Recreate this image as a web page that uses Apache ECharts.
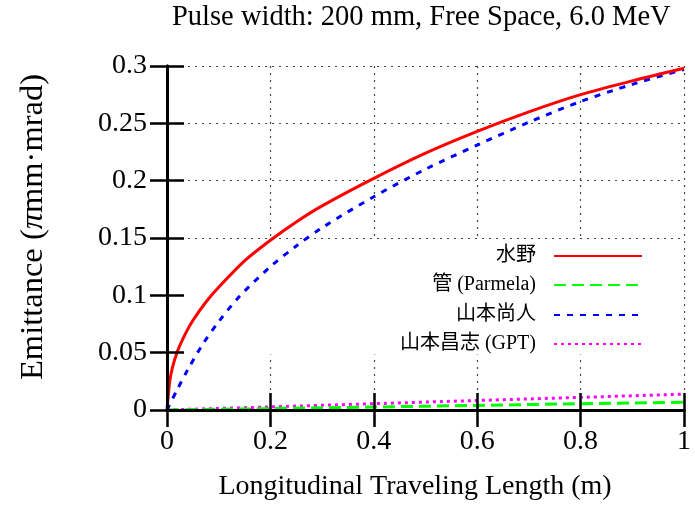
<!DOCTYPE html>
<html>
<head>
<meta charset="utf-8">
<script src="https://cdn.jsdelivr.net/npm/echarts@6/dist/echarts.min.js"></script>
<style>html,body{margin:0;padding:0;background:#fff}#c{width:695px;height:506px}</style>
</head>
<body>
<div id="c"></div>
<script>
// ---- data ----
var titleText = 'Pulse width: 200 mm, Free Space, 6.0 MeV';
var xName = 'Longitudinal Traveling Length (m)';
var yName = 'Emittance ({pi|π}mm·mrad)';
var seriesNames = ['水野', '管 (Parmela)', '山本尚人', '山本昌志 (GPT)'];

var xMizuno = [0, 0.005, 0.01, 0.02, 0.035, 0.05, 0.075, 0.1, 0.15, 0.2, 0.25, 0.3, 0.4, 0.5, 0.6, 0.7, 0.8, 0.9, 1.0];
var yMizuno = [0, 0.024, 0.036, 0.051, 0.066, 0.078, 0.094, 0.107, 0.13, 0.148, 0.164, 0.178, 0.202, 0.224, 0.243, 0.26, 0.275, 0.287, 0.298];

var xKan = [0, 0.2, 0.4, 0.6, 0.8, 1.0];
var yKan = [0, 0.0012, 0.0026, 0.004, 0.0055, 0.0068];

var xYamamotoN = [0, 0.02, 0.04, 0.07, 0.1, 0.14, 0.2, 0.25, 0.3, 0.4, 0.5, 0.6, 0.7, 0.8, 0.9, 1.0];
var yYamamotoN = [0, 0.018, 0.035, 0.058, 0.077, 0.099, 0.125, 0.143, 0.159, 0.186, 0.21, 0.231, 0.251, 0.269, 0.284, 0.297];

var xYamamotoM = [0, 0.2, 0.4, 0.6, 0.8, 1.0];
var yYamamotoM = [0, 0.0027, 0.0055, 0.0083, 0.011, 0.0138];

// legend (key) background region in data units
var keyYRange = [0.0484, 0.1478];

function pairs(xs, ys) { return xs.map(function (x, i) { return [x, ys[i]]; }); }

var SERIF = "'Liberation Serif', 'Noto Sans CJK JP', serif";
var chart = echarts.init(document.getElementById('c'), null, {renderer: 'canvas'});

var tickStyle = {show: true, inside: true, length: 17, lineStyle: {color: '#000', width: 2.5}};
var lineStyleAxis = {show: true, lineStyle: {color: '#000', width: 3}};
var gridLineStyle = {color: '#444', width: 1.2, type: [2, 5]};

var legendCenters = [256, 285, 315, 344];
var legends = seriesNames.map(function (n, i) {
  return {
    data: [n], right: 52, top: legendCenters[i] - 10, orient: 'vertical', align: 'right',
    itemWidth: 88, itemHeight: 20, selectedMode: false, padding: 0,
    itemStyle: {opacity: 0},
    textStyle: {fontSize: 20, fontFamily: SERIF, color: '#000', padding: [0, 13, 0, 0], lineHeight: 20}
  };
});

var option = {
  backgroundColor: '#fff',
  animation: false,
  title: {
    text: titleText, left: 172, top: 3, padding: 0,
    textStyle: {fontSize: 28.5, fontWeight: 'normal', fontFamily: SERIF, color: '#000'}
  },
  legend: legends,
  grid: {left: 167, right: 11, top: 66, bottom: 93},
  xAxis: [
    {
      type: 'value', min: 0, max: 1, interval: 0.2, position: 'bottom', z: 10,
      axisLine: lineStyleAxis, axisTick: tickStyle, splitLine: {show: false},
      axisLabel: {show: true, fontSize: 28, fontFamily: SERIF, color: '#000', margin: 18},
      name: xName, nameLocation: 'middle', nameGap: 63,
      nameTextStyle: {fontSize: 28, fontFamily: SERIF, color: '#000', padding: [0, 21, 0, 0]}
    },
    {
      type: 'value', min: 0, max: 1, interval: 0.2, position: 'top', z: 10,
      axisLine: lineStyleAxis, axisTick: tickStyle, splitLine: {show: false}, axisLabel: {show: false}
    },
    {type: 'value', min: 0, max: 0.3 * 0 + 1, interval: 0.2, position: 'bottom', z: 0,
     axisLine: {show: false}, axisTick: {show: false}, axisLabel: {show: false},
     splitLine: {show: true, lineStyle: gridLineStyle}}
  ],
  yAxis: [
    {
      type: 'value', min: 0, max: 0.3, interval: 0.05, position: 'left', z: 10,
      axisLine: lineStyleAxis, axisTick: tickStyle, splitLine: {show: false},
      axisLabel: {show: true, fontSize: 28, fontFamily: SERIF, color: '#000', margin: 20},
      name: yName, nameLocation: 'middle', nameGap: 117, nameRotate: 90,
      nameTextStyle: {fontSize: 32.5, fontFamily: SERIF, color: '#000', padding: [0, 0, 0, 22],
        rich: {pi: {fontSize: 32.5, fontFamily: SERIF, fontStyle: 'italic', color: '#000'}}}
    },
    {
      type: 'value', min: 0, max: 0.3, interval: 0.05, position: 'right', z: 10,
      axisLine: lineStyleAxis, axisTick: tickStyle, splitLine: {show: false}, axisLabel: {show: false}
    },
    {type: 'value', min: 0, max: 0.3, interval: 0.05, position: 'left', z: 0,
     axisLine: {show: false}, axisTick: {show: false}, axisLabel: {show: false},
     splitLine: {show: true, lineStyle: gridLineStyle}}
  ],
  series: [
    {
      name: '_key', type: 'line', data: [], z: 1, silent: true, symbol: 'none',
      markArea: {silent: true, itemStyle: {color: '#fff'},
        data: [[{xAxis: 0, yAxis: keyYRange[0]}, {xAxis: 1, yAxis: keyYRange[1]}]]}
    },
    {name: seriesNames[3], type: 'line', data: pairs(xYamamotoM, yYamamotoM), symbol: 'none', z: 2,
     lineStyle: {color: '#ff00ff', width: 3, type: [3, 4]}, itemStyle: {color: '#ff00ff'}},
    {name: seriesNames[1], type: 'line', data: pairs(xKan, yKan), symbol: 'none', z: 3,
     lineStyle: {color: '#00ff00', width: 3, type: [12, 6]}, itemStyle: {color: '#00ff00'}},
    {name: seriesNames[2], type: 'line', data: pairs(xYamamotoN, yYamamotoN), symbol: 'none', z: 4,
     smooth: 0.3,
     lineStyle: {color: '#0000ff', width: 3, type: [6, 7]}, itemStyle: {color: '#0000ff'}},
    {name: seriesNames[0], type: 'line', data: pairs(xMizuno, yMizuno), symbol: 'none', z: 5,
     smooth: 0.3,
     lineStyle: {color: '#ff0000', width: 3, type: 'solid'}, itemStyle: {color: '#ff0000'}}
  ]
};
chart.setOption(option);
</script>
</body>
</html>
